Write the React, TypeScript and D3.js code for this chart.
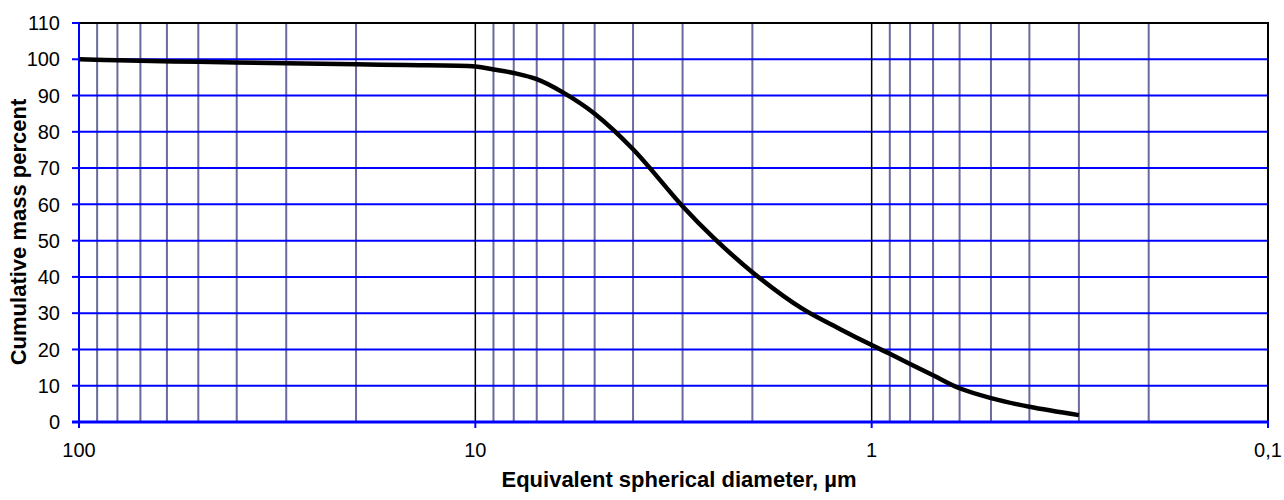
import React, { useEffect, useRef } from "react";
import * as d3 from "d3";

// diameter (µm) and cumulative mass percent
const diameters = [100, 80, 50, 30, 20, 15, 10, 9, 8, 7, 6, 5, 4, 3, 2.5, 2, 1.5, 1.2, 1, 0.9, 0.8, 0.7, 0.6, 0.5, 0.4, 0.3];
const massPercent = [100, 99.7, 99.3, 98.9, 98.6, 98.4, 98, 97.2, 96.2, 94.5, 90.8, 85, 75.2, 59.5, 50.7, 41.3, 31.3, 25.6, 21.2, 18.8, 16, 12.9, 9.3, 6.6, 4.2, 1.9];
const yTicks = [0, 10, 20, 30, 40, 50, 60, 70, 80, 90, 100, 110];
const majorTicks = [100, 10, 1, 0.1];
const majorLabels = ["100", "10", "1", "0,1"];

const App = () => {
  const svgRef: any = useRef();

  useEffect(() => {
    const svg = d3.select(svgRef.current);
    svg.selectAll("*").remove();
    const width = 1284;
    const height = 500;
    const margin = { top: 23, right: 16, bottom: 78, left: 79 };
    svg.attr("width", width).attr("height", height);

    const x = d3.scaleLog().domain([100, 0.1]).range([margin.left, width - margin.right]);
    const y = d3.scaleLinear().domain([0, 110]).range([height - margin.bottom, margin.top]);
    const font = "'Liberation Sans', Arial, sans-serif";

    // minor vertical grid
    const minors: number[] = [];
    [10, 1, 0.1].forEach((base) => {
      for (let k = 2; k <= 9; k++) minors.push(base * k);
    });
    svg
      .selectAll(".minor")
      .data(minors)
      .join("line")
      .attr("x1", (d) => x(d))
      .attr("x2", (d) => x(d))
      .attr("y1", y(110))
      .attr("y2", y(0))
      .attr("stroke", "#6a6a9e")
      .attr("stroke-width", 2);

    // horizontal grid
    svg
      .selectAll(".hgrid")
      .data(yTicks.filter((t) => t > 0 && t < 110))
      .join("line")
      .attr("x1", x(100))
      .attr("x2", x(0.1))
      .attr("y1", (d) => y(d))
      .attr("y2", (d) => y(d))
      .attr("stroke", "#0000ff")
      .attr("stroke-width", 2);

    // major verticals
    svg
      .selectAll(".major")
      .data([10, 1])
      .join("line")
      .attr("x1", (d) => x(d))
      .attr("x2", (d) => x(d))
      .attr("y1", y(110))
      .attr("y2", y(0))
      .attr("stroke", "#000")
      .attr("stroke-width", 1.5);

    // top and right border
    svg
      .append("line")
      .attr("x1", x(100))
      .attr("x2", x(0.1) + 1)
      .attr("y1", y(110))
      .attr("y2", y(110))
      .attr("stroke", "#000")
      .attr("stroke-width", 2);
    svg
      .append("line")
      .attr("x1", x(0.1))
      .attr("x2", x(0.1))
      .attr("y1", y(110))
      .attr("y2", y(0))
      .attr("stroke", "#000")
      .attr("stroke-width", 2);

    // axes lines
    svg
      .append("line")
      .attr("x1", x(100))
      .attr("x2", x(100))
      .attr("y1", y(110))
      .attr("y2", y(0) + 6)
      .attr("stroke", "#0000ff")
      .attr("stroke-width", 2);
    svg
      .append("line")
      .attr("x1", x(100) - 7)
      .attr("x2", x(0.1) + 1)
      .attr("y1", y(0))
      .attr("y2", y(0))
      .attr("stroke", "#0000ff")
      .attr("stroke-width", 3);

    // y ticks
    svg
      .selectAll(".ytick")
      .data(yTicks)
      .join("line")
      .attr("x1", x(100) - 7)
      .attr("x2", x(100))
      .attr("y1", (d) => y(d))
      .attr("y2", (d) => y(d))
      .attr("stroke", "#0000ff")
      .attr("stroke-width", 2);
    svg
      .selectAll(".ylabel")
      .data(yTicks)
      .join("text")
      .attr("x", x(100) - 19)
      .attr("y", (d) => y(d))
      .attr("dy", "0.36em")
      .attr("text-anchor", "end")
      .attr("font-family", font)
      .attr("font-size", 20)
      .text((d) => d);

    // x ticks
    svg
      .selectAll(".xtick")
      .data(majorTicks)
      .join("line")
      .attr("x1", (d) => x(d))
      .attr("x2", (d) => x(d))
      .attr("y1", y(0))
      .attr("y2", y(0) + 6)
      .attr("stroke", "#0000ff")
      .attr("stroke-width", 2);
    svg
      .selectAll(".xlabel")
      .data(majorTicks)
      .join("text")
      .attr("x", (d) => x(d))
      .attr("y", y(0) + 35)
      .attr("text-anchor", "middle")
      .attr("font-family", font)
      .attr("font-size", 20)
      .text((d, i) => majorLabels[i]);

    // curve
    const points = diameters.map((d, i) => [d, massPercent[i]] as [number, number]);
    const line = d3
      .line<[number, number]>()
      .x((d) => x(d[0]))
      .y((d) => y(d[1]))
      .curve(d3.curveCatmullRom.alpha(0.5));
    svg
      .append("path")
      .attr("d", line(points))
      .attr("fill", "none")
      .attr("stroke", "#000")
      .attr("stroke-width", 4.5)
      .attr("stroke-linejoin", "round");

    // axis titles
    svg
      .append("text")
      .attr("x", 679)
      .attr("y", 487)
      .attr("text-anchor", "middle")
      .attr("font-family", font)
      .attr("font-weight", "bold")
      .attr("font-size", 22)
      .text("Equivalent spherical diameter, µm");
    svg
      .append("text")
      .attr("transform", "translate(26,232) rotate(-90)")
      .attr("text-anchor", "middle")
      .attr("font-family", font)
      .attr("font-weight", "bold")
      .attr("font-size", 22)
      .text("Cumulative mass percent");
  }, []);

  return <svg ref={svgRef} style={{ position: "absolute", left: 0, top: 0 }}></svg>;
};

export default App;
